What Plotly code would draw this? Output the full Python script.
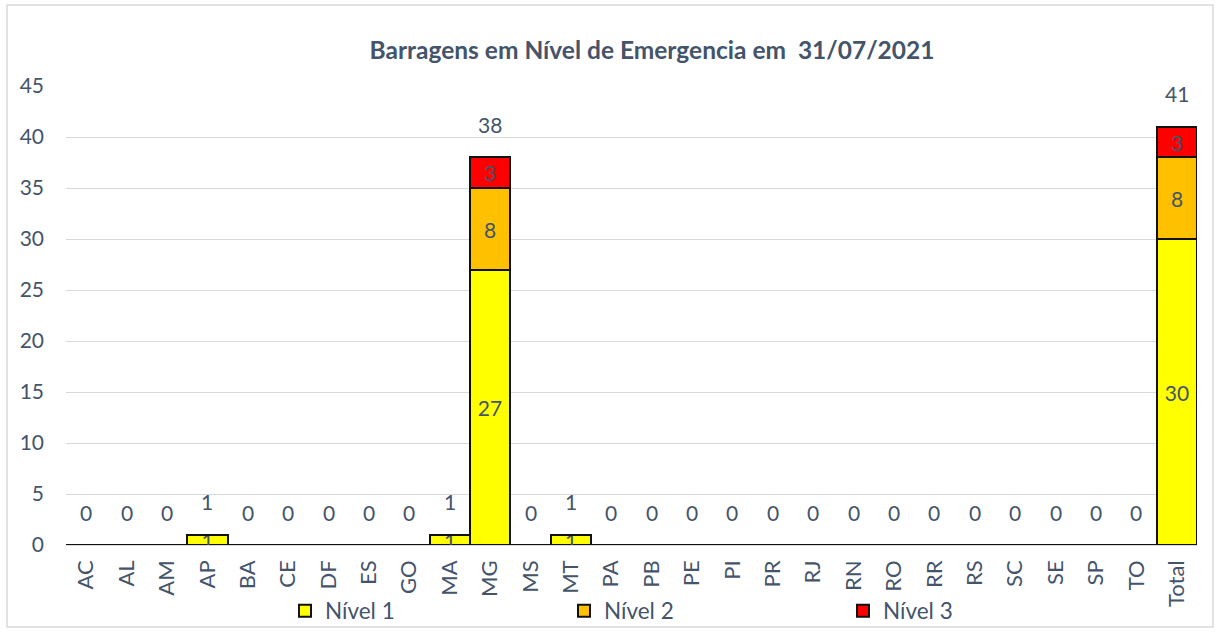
import plotly.graph_objects as go

categories = ["AC", "AL", "AM", "AP", "BA", "CE", "DF", "ES", "GO", "MA", "MG", "MS", "MT",
              "PA", "PB", "PE", "PI", "PR", "RJ", "RN", "RO", "RR", "RS", "SC", "SE", "SP",
              "TO", "Total"]
nivel1 = [0, 0, 0, 1, 0, 0, 0, 0, 0, 1, 27, 0, 1, 0, 0, 0, 0, 0, 0, 0, 0, 0, 0, 0, 0, 0, 0, 30]
nivel2 = [0, 0, 0, 0, 0, 0, 0, 0, 0, 0, 8, 0, 0, 0, 0, 0, 0, 0, 0, 0, 0, 0, 0, 0, 0, 0, 0, 8]
nivel3 = [0, 0, 0, 0, 0, 0, 0, 0, 0, 0, 3, 0, 0, 0, 0, 0, 0, 0, 0, 0, 0, 0, 0, 0, 0, 0, 0, 3]
series_names = ["Nível 1", "Nível 2", "Nível 3"]
colors = ["#FFFF00", "#FFC000", "#FF0000"]
totals = [a + b + c for a, b, c in zip(nivel1, nivel2, nivel3)]

FONT = "Lato"
TXT = "#44546A"
W, H = 1218, 633

legend_ids = ["legend", "legend2", "legend3"]
legend_px = [305, 584, 863]  # marker centres in pixels

fig = go.Figure()
for name, vals, col, lid in zip(series_names, [nivel1, nivel2, nivel3], colors, legend_ids):
    fig.add_trace(go.Bar(
        x=categories, y=vals, name=name, legend=lid,
        marker=dict(color=col, line=dict(color="#111111", width=2)),
        text=[str(v) if v else "" for v in vals],
        textposition="inside", insidetextanchor="middle",
        constraintext="none", textangle=0,
        textfont=dict(family=FONT, size=21, color=TXT),
    ))

for c, t in zip(categories, totals):
    fig.add_annotation(x=c, y=t, text=str(t), showarrow=False, yshift=33,
                       font=dict(family=FONT, size=21, color=TXT))

legend_common = dict(orientation="h", xref="container", yref="container",
                     xanchor="left", yanchor="middle", y=1 - 611 / H, itemwidth=30,
                     font=dict(family=FONT, size=22.5, color=TXT), bgcolor="rgba(0,0,0,0)")
layout_legends = {}
for lid, px in zip(legend_ids, legend_px):
    layout_legends[lid] = dict(legend_common, x=(px - 20) / W)

fig.update_layout(
    width=W, height=H,
    barmode="stack", bargap=0,
    paper_bgcolor="white", plot_bgcolor="white",
    margin=dict(l=66, r=21, t=86, b=88, autoexpand=False),
    title=dict(text="<b>Barragens em Nível de Emergencia em  31/07/2021</b>",
               x=652 / W, xanchor="center", y=1 - 50 / H, yanchor="middle",
               font=dict(family=FONT, size=24.5, color=TXT)),
    font=dict(family=FONT, color=TXT),
    showlegend=True,
    **layout_legends,
)
fig.update_xaxes(tickangle=-90, tickfont=dict(family=FONT, size=22, color=TXT),
                 showgrid=False, showline=False, ticks="", automargin=False,
                 ticklabelstandoff=10)
fig.update_yaxes(range=[0, 45], dtick=5, tick0=0, showgrid=True, gridcolor="#D9D9D9",
                 gridwidth=1, zeroline=True, zerolinecolor="#D9D9D9", zerolinewidth=1,
                 tickfont=dict(family=FONT, size=21, color=TXT), ticklabelstandoff=21,
                 automargin=False)

# outer chart border
fig.add_shape(type="rect", xref="paper", yref="paper",
              x0=(7 - 66) / 1131, x1=(1213 - 66) / 1131,
              y0=(545 - 627) / 459, y1=(545 - 5) / 459,
              line=dict(color="#D9D9D9", width=1.5), fillcolor="rgba(0,0,0,0)", layer="below")

fig.write_html("out.html", config={"displayModeBar": False},
               post_script="document.body.style.margin='0';")
